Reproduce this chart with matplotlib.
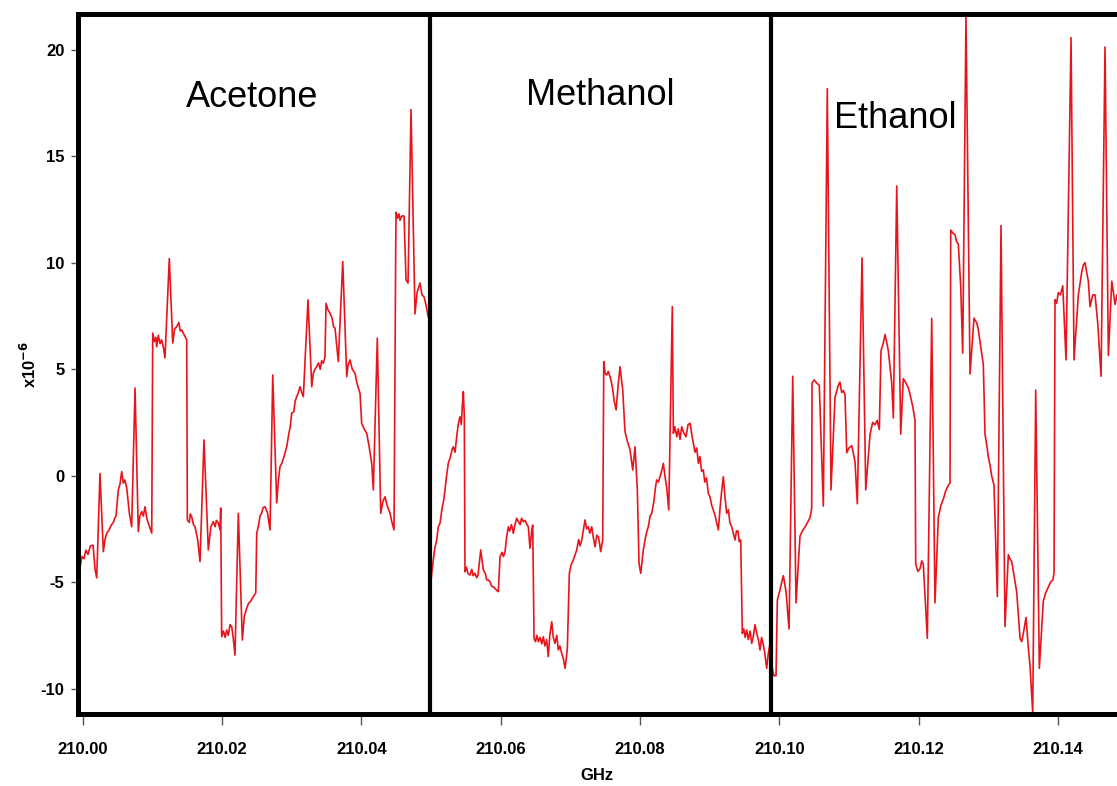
import matplotlib
matplotlib.use("Agg")
import matplotlib.pyplot as plt
from matplotlib.ticker import FixedLocator, FormatStrFormatter

plt.rcParams["axes.unicode_minus"] = False

BASE_GHZ = 210.0

# (offset above 210 GHz in MHz, signal in units of 1e-6), one trace per sample
acetone = [
    (-0.39, -4.3), (-0.1, -3.8), (0.19, -3.9), (0.45, -3.5), (0.76, -3.7), (1.1, -3.3),
    (1.48, -3.26), (1.77, -4.4), (2.01, -4.8), (2.48, 0.1), (2.96, -3.57), (3.2, -3.0),
    (3.45, -2.7), (3.7, -2.6), (3.92, -2.45), (4.15, -2.3), (4.39, -2.2), (4.6, -2.0),
    (4.78, -1.9), (5.11, -0.67), (5.35, -0.4), (5.60, 0.19), (5.83, -0.35), (6.05, -0.2),
    (6.32, -0.58), (6.69, -1.75), (7.03, -2.4), (7.51, 4.12), (7.98, -2.63), (8.2, -1.9),
    (8.47, -1.69), (8.7, -1.9), (8.94, -1.46), (9.2, -2.0), (9.42, -2.23), (9.91, -2.7),
    (10.05, 6.7), (10.3, 6.3), (10.5, 6.5), (10.62, 6.06), (10.85, 6.6), (11.1, 6.2),
    (11.34, 6.38), (11.6, 6.0), (11.81, 5.53), (12.43, 10.2), (12.92, 6.23), (13.2, 6.9),
    (13.49, 7.0), (13.8, 7.2), (14.0, 6.8), (14.21, 6.85), (14.6, 6.6), (14.93, 6.38),
    (15.02, -2.08), (15.3, -2.2), (15.45, -1.8), (15.65, -1.93), (15.9, -2.3), (16.12, -2.4),
    (16.5, -3.0), (16.84, -4.04), (17.41, 1.68), (18.03, -3.49), (18.4, -2.4), (18.75, -2.16),
    (19.0, -2.4), (19.2, -2.1), (19.47, -2.22), (19.71, -2.55), (19.81, -1.52), (19.95, -7.57),
    (20.2, -7.3), (20.45, -7.6), (20.67, -7.25), (20.9, -7.5), (21.15, -7.0), (21.39, -7.1),
    (21.6, -7.6), (21.86, -8.43), (22.34, -1.77), (22.91, -7.72), (23.2, -6.6), (23.54, -6.23),
    (23.8, -6.0), (24.1, -5.9), (24.49, -5.68), (24.84, -5.51), (24.98, -2.7), (25.2, -2.4),
    (25.45, -1.9), (25.70, -1.75), (25.9, -1.5), (26.17, -1.46), (26.53, -1.75), (26.89, -2.55),
    (27.28, 4.73), (27.85, -1.28), (28.1, -0.2), (28.32, 0.42), (28.6, 0.6), (28.9, 0.9),
    (29.29, 1.36), (29.6, 2.0), (29.8, 2.3), (30.00, 2.94), (30.3, 3.0), (30.5, 3.5),
    (30.72, 3.71), (30.95, 3.9), (31.20, 4.18), (31.45, 3.9), (31.67, 3.71), (32.34, 8.26),
    (32.88, 4.18), (33.1, 4.8), (33.35, 5.0), (33.59, 5.12), (33.85, 5.3), (34.1, 5.0),
    (34.3, 5.4), (34.54, 5.28), (34.78, 5.59), (34.93, 8.1), (35.2, 7.8), (35.50, 7.63),
    (35.8, 7.4), (36.0, 7.0), (36.22, 6.93), (36.69, 5.36), (37.33, 10.06), (37.90, 4.65),
    (38.1, 5.2), (38.37, 5.44), (38.7, 5.0), (39.09, 4.81), (39.4, 4.3), (39.81, 3.87),
    (40.05, 2.46), (40.4, 2.2), (40.77, 1.99), (41.1, 1.4), (41.49, 0.58), (41.72, -0.67),
    (42.29, 6.46), (42.78, -1.77), (43.1, -1.2), (43.40, -0.99), (43.7, -1.4), (44.12, -1.77),
    (44.4, -2.2), (44.69, -2.55), (44.93, 10.6), (44.98, 12.38), (45.20, 12.1), (45.4, 12.3),
    (45.55, 12.0), (45.8, 12.2), (46.13, 12.2), (46.41, 9.2), (46.70, 9.05), (47.13, 17.2),
    (47.70, 7.6), (48.0, 8.6), (48.42, 9.05), (48.7, 8.5), (49.00, 8.4), (49.3, 8.0),
    (49.57, 7.5), (49.80, 7.3),
]

methanol = [
    (49.86, -5.53), (50.1, -4.6), (50.33, -3.96), (50.55, -3.4), (50.82, -3.02), (51.05, -2.4),
    (51.29, -2.24), (51.6, -1.5), (51.8, -1.2), (52.01, -0.67), (52.2, -0.1), (52.48, 0.58),
    (52.8, 0.9), (53.0, 1.2), (53.2, 1.36), (53.45, 1.1), (53.69, 1.83), (53.9, 2.4),
    (54.16, 2.77), (54.35, 2.4), (54.5, 3.3), (54.64, 3.95), (54.72, 3.3), (54.78, 2.77),
    (54.88, -4.51), (55.1, -4.3), (55.3, -4.6), (55.6, -4.67), (55.85, -4.4), (56.05, -4.7),
    (56.32, -4.59), (56.55, -4.8), (56.75, -4.67), (57.14, -3.49), (57.51, -4.43), (57.8, -4.6),
    (58.0, -4.9), (58.23, -4.9), (58.5, -5.0), (58.7, -5.2), (58.95, -5.22), (59.2, -5.3),
    (59.45, -5.4), (59.66, -5.45), (59.91, -3.81), (60.2, -3.6), (60.4, -3.8), (60.63, -3.57),
    (60.85, -2.9), (61.10, -2.4), (61.3, -2.6), (61.55, -2.3), (61.82, -2.71), (62.05, -2.3),
    (62.3, -2.0), (62.53, -2.16), (62.8, -2.3), (63.0, -2.0), (63.25, -2.16), (63.5, -2.1),
    (63.75, -2.3), (63.97, -2.4), (64.21, -3.41), (64.45, -2.6), (64.60, -2.32), (64.79, -7.64),
    (65.0, -7.8), (65.2, -7.5), (65.41, -7.8), (65.65, -7.6), (65.9, -7.9), (66.12, -7.57),
    (66.35, -8.0), (66.6, -7.7), (66.84, -8.5), (67.05, -7.5), (67.33, -6.86), (67.55, -7.6),
    (67.80, -7.88), (68.05, -7.5), (68.28, -8.19), (68.5, -8.0), (68.76, -8.35), (69.0, -8.6),
    (69.24, -9.05), (69.45, -8.5), (69.57, -8.11), (69.86, -4.59), (70.1, -4.2), (70.43, -3.96),
    (70.7, -3.7), (70.92, -3.49), (71.2, -3.0), (71.4, -3.3), (71.64, -3.02), (71.9, -2.5),
    (72.11, -2.08), (72.35, -2.5), (72.58, -2.4), (72.8, -2.7), (73.07, -2.4), (73.3, -2.9),
    (73.55, -3.34), (73.8, -2.8), (74.02, -2.87), (74.2, -3.2), (74.36, -3.57), (74.65, -3.02),
    (74.80, 5.36), (75.0, 4.8), (75.23, 4.73), (75.45, 4.9), (75.70, 4.65), (75.9, 4.4),
    (76.09, 4.03), (76.3, 3.5), (76.57, 3.09), (76.85, 4.2), (77.14, 5.12), (77.52, 4.03),
    (77.85, 2.07), (78.2, 1.6), (78.57, 1.21), (78.96, 0.27), (79.29, 1.36), (79.62, -0.67),
    (79.86, -4.12), (80.11, -4.59), (80.48, -3.49), (80.8, -2.9), (81.0, -2.6), (81.20, -2.4),
    (81.45, -1.9), (81.69, -1.77), (82.0, -1.2), (82.2, -0.6), (82.40, -0.2), (82.65, -0.3),
    (82.88, -0.05), (83.1, 0.2), (83.35, 0.58), (83.60, -0.05), (83.85, -0.6), (84.13, -1.61),
    (84.64, 7.94), (84.79, 1.99), (85.0, 2.3), (85.28, 1.83), (85.5, 2.2), (85.75, 1.7),
    (85.99, 2.3), (86.3, 2.0), (86.61, 1.83), (86.9, 2.4), (87.19, 2.46), (87.45, 1.9),
    (87.66, 1.52), (87.9, 1.1), (88.15, 1.3), (88.38, 0.58), (88.6, 0.9), (88.85, 0.2),
    (89.09, 0.27), (89.3, -0.3), (89.55, -0.1), (89.81, -0.83), (90.05, -1.0), (90.3, -1.4),
    (90.53, -1.61), (90.8, -1.9), (91.0, -2.2), (91.25, -2.55), (91.5, -1.5), (91.7, -0.8),
    (91.96, -0.05), (92.2, -1.0), (92.45, -1.77), (92.7, -1.6), (92.9, -2.2), (93.17, -2.4),
    (93.4, -2.7), (93.64, -3.02), (93.85, -2.6), (94.07, -2.6), (94.25, -3.1), (94.46, -3.02),
    (94.69, -7.41), (94.9, -7.2), (95.1, -7.6), (95.32, -7.25), (95.55, -7.7), (95.8, -7.3),
    (96.04, -7.88), (96.3, -7.5), (96.5, -7.0), (96.76, -7.41), (97.0, -7.7), (97.23, -8.19),
    (97.45, -7.6), (97.66, -7.88), (97.9, -8.3), (98.19, -9.05), (98.4, -8.4), (98.67, -7.88),
]

ethanol = [
    (98.95, -9.0), (99.24, -9.4), (99.53, -9.4), (99.72, -5.84), (100.10, -5.37), (100.35, -5.0),
    (100.58, -4.7), (100.97, -5.46), (101.40, -7.2), (101.93, 4.67), (102.40, -5.98), (102.97, -2.84),
    (103.3, -2.6), (103.69, -2.41), (104.05, -2.2), (104.41, -1.97), (104.65, -1.54), (104.7, 4.35),
    (105.0, 4.5), (105.37, 4.35), (105.74, 4.24), (105.99, 1.73), (106.32, -1.43), (106.89, 18.18),
    (107.42, -0.67), (108.00, 3.69), (108.47, 4.24), (108.7, 4.4), (108.96, 3.91), (109.2, 4.0),
    (109.43, 3.8), (109.68, 1.08), (110.0, 1.3), (110.40, 1.41), (110.6, 1.1), (110.87, 0.64),
    (111.20, -1.32), (111.88, 10.23), (112.41, -0.67), (113.03, 1.95), (113.4, 2.5), (113.74, 2.39),
    (114.05, 2.6), (114.36, 2.17), (114.60, 5.87), (114.9, 6.2), (115.18, 6.63), (115.4, 6.3),
    (115.65, 5.87), (116.14, 4.35), (116.37, 2.71), (116.86, 13.61), (117.43, 1.95), (117.80, 4.56),
    (118.1, 4.4), (118.52, 4.13), (118.85, 3.7), (119.15, 3.26), (119.48, 2.6), (119.58, -4.15),
    (119.9, -4.5), (120.20, -4.37), (120.45, -4.0), (120.67, -4.15), (121.25, -7.64), (121.88, 7.39),
    (122.35, -5.98), (122.83, -1.97), (123.2, -1.4), (123.55, -1.1), (123.9, -0.7), (124.27, -0.45),
    (124.51, -0.34), (124.61, 11.54), (124.9, 11.4), (125.23, 11.32), (125.45, 11.0), (125.70, 10.88),
    (126.04, 8.92), (126.33, 5.76), (126.80, 21.56), (127.38, 4.78), (127.95, 7.4), (128.34, 7.18),
    (128.55, 6.9), (128.81, 6.31), (129.29, 5.22), (129.53, 1.95), (129.8, 1.4), (130.01, 0.86),
    (130.25, 0.5), (130.49, -0.01), (130.82, -0.45), (131.30, -5.68), (131.83, 11.75), (132.40, -7.09),
    (132.88, -3.71), (133.1, -3.9), (133.37, -4.04), (133.7, -4.7), (134.08, -5.46), (134.56, -7.64),
    (134.8, -7.8), (135.03, -7.42), (135.42, -6.66), (135.75, -8.08), (135.99, -8.94), (136.38, -11.12),
    (136.81, 4.02), (137.33, -9.05), (137.90, -5.89), (138.25, -5.5), (138.62, -5.24), (138.95, -5.0),
    (139.25, -4.91), (139.44, -4.59), (139.58, 8.27), (139.8, 8.1), (140.06, 8.6), (140.35, 8.5),
    (140.69, 8.92), (141.16, 5.44), (141.88, 20.58), (142.31, 5.44), (142.93, 8.49), (143.42, 9.58),
    (143.65, 9.9), (143.89, 10.01), (144.1, 9.6), (144.36, 9.14), (144.61, 7.94), (145.0, 8.5),
    (145.33, 8.49), (145.71, 7.18), (146.19, 4.67), (146.76, 20.14), (147.24, 5.65), (147.73, 9.14),
    (148.0, 8.5), (148.20, 8.05), (148.48, 8.49), (148.91, 8.3),
]

sample_names = ["Acetone", "Methanol", "Ethanol"]
label_mhz = [24.3, 74.26, 116.6]
label_sig = [17.33, 17.4, 16.34]
boundary_mhz = [49.8, 98.8]

xticks = [210.00, 210.02, 210.04, 210.06, 210.08, 210.10, 210.12, 210.14]
yticks = [-10, -5, 0, 5, 10, 15, 20]

TRACE_COLOR = "#e8141c"
FONT = ["Liberation Sans", "DejaVu Sans"]


def to_ghz(mhz):
    return [BASE_GHZ + m / 1000.0 for m in mhz]


fig = plt.figure(figsize=(11.17, 7.86), dpi=100)
ax = fig.add_axes([0.0694, 0.0910, 0.9306, 0.8906])

for trace in (acetone, methanol, ethanol):
    mhz, sig = zip(*trace)
    ax.plot(to_ghz(mhz), sig, color=TRACE_COLOR, lw=1.2, solid_joinstyle="round")

# black dividers between the three samples
for b in to_ghz(boundary_mhz):
    ax.axvline(b, color="black", lw=3.0, zorder=5)

for name, xm, ys in zip(sample_names, to_ghz(label_mhz), label_sig):
    ax.text(xm, ys, name, ha="center", va="baseline", fontsize=26, family=FONT)

ax.set_xlim(209.999254, 210.148479)
ax.set_ylim(-11.22, 21.67)

ax.xaxis.set_major_locator(FixedLocator(xticks))
ax.xaxis.set_major_formatter(FormatStrFormatter("%.2f"))
ax.yaxis.set_major_locator(FixedLocator(yticks))

for side in ("top", "bottom", "left"):
    ax.spines[side].set_linewidth(3.6)
    ax.spines[side].set_color("black")
ax.spines["right"].set_visible(False)

ax.tick_params(axis="x", direction="out", length=8, width=1, color="#555555", pad=12)
ax.tick_params(axis="y", direction="out", length=5, width=1, color="#555555", pad=4.5)
for lab in ax.get_xticklabels() + ax.get_yticklabels():
    lab.set_family(FONT)
    lab.set_fontweight("bold")
    lab.set_fontsize(12)

ax.set_xlabel("GHz", family=FONT, fontweight="bold", fontsize=12)
ax.xaxis.label.set_va("top")
ax.xaxis.set_label_coords(0.5, -0.0764)
ax.set_ylabel(r"x10$^{\mathbf{-6}}$", family=FONT, fontweight="bold", fontsize=12)
ax.yaxis.label.set_va("center")
ax.yaxis.set_label_coords(-0.0467, 0.5)

fig.savefig("out.png", dpi=100)
